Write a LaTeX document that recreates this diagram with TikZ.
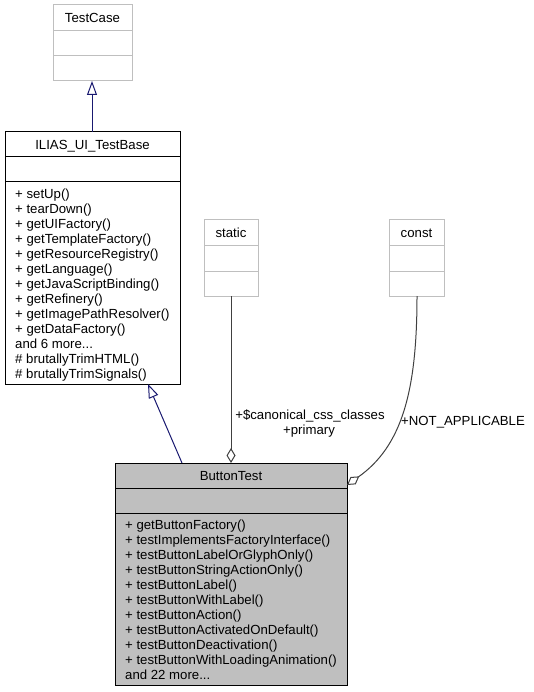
\documentclass[tikz,border=0pt]{standalone}
\usepackage{fontspec}
\setmainfont{Liberation Sans}
\usetikzlibrary{arrows.meta,calc}
\definecolor{edgeblue}{HTML}{191970}
\definecolor{edgegray}{HTML}{404040}
\definecolor{boxgray}{HTML}{BFBFBF}
\definecolor{lightborder}{HTML}{BFBFBF}
\begin{document}
\begin{tikzpicture}[x=1pt,y=-1pt,
  every node/.style={font=\fontsize{13.2}{15}\selectfont},
  umlbox/.style={anchor=north west, inner sep=0pt, outer sep=0pt, line width=1pt},
  plainbox/.style={umlbox, draw=lightborder, fill=white},
  mainbox/.style={umlbox, draw=black, fill=white},
  focusbox/.style={umlbox, draw=black, fill=boxgray},
  sepgray/.style={draw=lightborder, line width=1pt},
  sepblack/.style={draw=black, line width=1pt},
  txt/.style={inner sep=0pt, anchor=base},
  mtxt/.style={inner sep=0pt, anchor=base west},
  inherit/.style={draw=edgeblue, line width=1pt, -{Triangle[open, length=14pt, width=10pt]}},
  aggr/.style={draw=edgegray, line width=1pt, -{Diamond[open, length=15pt, width=9pt]}},
  elabel/.style={inner sep=0pt, anchor=base}
]
\useasboundingbox (0,0) rectangle (534,692);

% TestCase
\node[plainbox, minimum width=79pt, minimum height=76pt] (tc) at (53,5) {};
\draw[sepgray] (53,31) -- (132,31);
\draw[sepgray] (53,56) -- (132,56);
\node[txt] (tct) at (92.5,22.5) {TestCase};

% ILIAS_UI_TestBase
\node[mainbox, minimum width=175pt, minimum height=252pt] (il) at (5,132) {};
\draw[sepblack] (5,157) -- (180,157);
\draw[sepblack] (5,182) -- (180,182);
\node[txt] (ilt) at (92.5,149.5) {ILIAS\_UI\_TestBase};
\foreach \t [count=\i from 0] in {+ setUp(), + tearDown(), + getUIFactory(), + getTemplateFactory(), + getResourceRegistry(), + getLanguage(), + getJavaScriptBinding(), + getRefinery(), + getImagePathResolver(), + getDataFactory()}
  \node[mtxt] (ilm\i) at (15,198.5+15*\i) {\t};
\node[mtxt] (ilm10) at (15,348.5) {and 6 more...};
\node[mtxt] (ilm11) at (15,363.5) {\# brutallyTrimHTML()};
\node[mtxt] (ilm12) at (15,378.5) {\# brutallyTrimSignals()};

% static
\node[plainbox, minimum width=54pt, minimum height=76pt] (st) at (204,220) {};
\draw[sepgray] (204,246) -- (258,246);
\draw[sepgray] (204,271) -- (258,271);
\node[txt] (stt) at (231,237.5) {static};

% const
\node[plainbox, minimum width=55pt, minimum height=76pt] (co) at (389,220) {};
\draw[sepgray] (389,246) -- (444,246);
\draw[sepgray] (389,271) -- (444,271);
\node[txt] (cot) at (416.5,237.5) {const};

% ButtonTest
\node[focusbox, minimum width=232pt, minimum height=222pt] (bt) at (115,463) {};
\draw[sepblack] (115,488) -- (347,488);
\draw[sepblack] (115,513) -- (347,513);
\node[txt] (btt) at (231,480.5) {ButtonTest};
\foreach \t [count=\i from 0] in {+ getButtonFactory(), + testImplementsFactoryInterface(), + testButtonLabelOrGlyphOnly(), + testButtonStringActionOnly(), + testButtonLabel(), + testButtonWithLabel(), + testButtonAction(), + testButtonActivatedOnDefault(), + testButtonDeactivation(), + testButtonWithLoadingAnimation()}
  \node[mtxt] (btm\i) at (125,529.5+15*\i) {\t};
\node[mtxt] (btm10) at (125,679.5) {and 22 more...};

% connectors
\coordinate (ilTop) at ($(il.north west)+(87,0)$);
\coordinate (tcBot) at ($(tc.south west)+(39,0)$);
\draw[inherit] (ilTop) -- (tcBot);

\coordinate (btTopL) at ($(bt.north west)+(67,0)$);
\coordinate (ilBot) at ($(il.south west)+(143,0)$);
\draw[inherit] (btTopL) -- (ilBot);

\coordinate (stBot) at ($(st.south west)+(27,0)$);
\coordinate (btTopM) at ($(bt.north west)+(116,0)$);
\draw[aggr] (stBot) -- (btTopM);

\coordinate (coBot) at ($(co.south west)+(28,0)$);
\coordinate (btRight) at ($(bt.north east)+(0,22)$);
\draw[aggr] (coBot) .. controls ($(coBot)+(0,95)$) and ($(coBot)+(-15,150)$) .. (btRight);

\node[elabel] (l1) at (310,419.5) {+\$canonical\_css\_classes};
\node[elabel] (l2) at (309,434.5) {+primary};
\node[elabel] (l3) at (463,425.5) {+NOT\_APPLICABLE};
\end{tikzpicture}
\end{document}
